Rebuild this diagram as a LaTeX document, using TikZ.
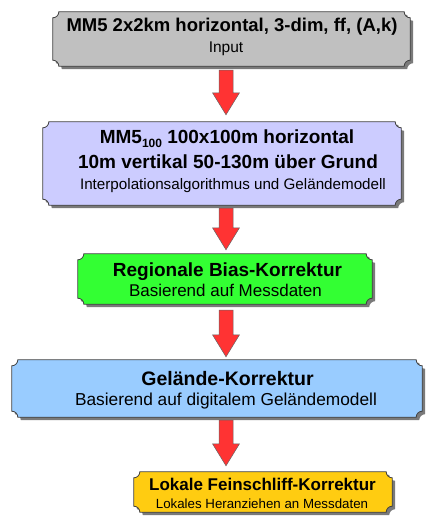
\documentclass[tikz,border=0pt]{standalone}
\usepackage{fontspec}
\setmainfont{Liberation Sans}
\usetikzlibrary{calc}
\pgfdeclarelayer{bg}
\pgfsetlayers{bg,main}
\definecolor{cgray}{HTML}{C0C0C0}
\definecolor{clav}{HTML}{CCCCFF}
\definecolor{cgreen}{HTML}{33FF33}
\definecolor{cblue}{HTML}{99CCFF}
\definecolor{cyell}{HTML}{FFCC11}
\definecolor{cshadow}{HTML}{7A7A7A}
\definecolor{cborder}{HTML}{404040}
\definecolor{cred}{HTML}{FF3333}
\tikzset{
  boxnode/.style={draw=none, inner sep=0pt},
  txt/.style={anchor=base, inner sep=0pt, text=black},
  plaquefill/.style={draw=cborder, line width=0.8pt},
  shadowfill/.style={fill=cshadow},
  arrowshape/.style={fill=cred, draw=cborder!80, line width=0.5pt, line join=miter},
}
\newcommand\bt[1]{\fontsize{#1}{#1}\selectfont\bfseries}
\newcommand\st[1]{\fontsize{#1}{#1}\selectfont\mdseries}
\newcommand\plaque[2]{%
  \begin{pgfonlayer}{bg}
  \path let \p1=(#1.south west), \p2=(#1.north east), \n1={6pt} in
    [shadowfill] (\x1+\n1+3pt,\y2-3pt) -- (\x2-\n1+3pt,\y2-3pt)
      arc[start angle=180,end angle=270,radius=\n1] -- (\x2+3pt,\y1+\n1-3pt)
      arc[start angle=90,end angle=180,radius=\n1] -- (\x1+\n1+3pt,\y1-3pt)
      arc[start angle=0,end angle=90,radius=\n1] -- (\x1+3pt,\y2-\n1-3pt)
      arc[start angle=270,end angle=360,radius=\n1] -- cycle;
  \path let \p1=(#1.south west), \p2=(#1.north east), \n1={6pt} in
    [plaquefill, fill=#2] (\x1+\n1,\y2) -- (\x2-\n1,\y2)
      arc[start angle=180,end angle=270,radius=\n1] -- (\x2,\y1+\n1)
      arc[start angle=90,end angle=180,radius=\n1] -- (\x1+\n1,\y1)
      arc[start angle=0,end angle=90,radius=\n1] -- (\x1,\y2-\n1)
      arc[start angle=270,end angle=360,radius=\n1] -- cycle;
  \end{pgfonlayer}}
\newcommand\bigarrow[4]{% from, to, top gap, bottom gap
  \path let \p1=(#1.south), \p2=(#2.north), \n1={226pt} in
    [arrowshape] (\n1-7pt,\y1-#3) -- (\n1+7pt,\y1-#3) -- (\n1+7pt,\y2+#4+22pt)
      -- (\n1+13.5pt,\y2+#4+22pt) -- (\n1,\y2+#4) -- (\n1-13.5pt,\y2+#4+22pt)
      -- (\n1-7pt,\y2+#4+22pt) -- cycle;}
\begin{document}
\begin{tikzpicture}[x=1pt,y=1pt]
\useasboundingbox (0,0) rectangle (432,-516);
% boxes
\node[boxnode, minimum width=357pt, minimum height=54pt] (n1) at (231.5,-39) {};
\node[boxnode, minimum width=358pt, minimum height=83pt] (n2) at (222,-163.5) {};
\node[boxnode, minimum width=294pt, minimum height=50pt] (n3) at (225,-279) {};
\node[boxnode, minimum width=410pt, minimum height=57pt] (n4) at (217,-388.5) {};
\node[boxnode, minimum width=258pt, minimum height=40pt] (n5) at (263,-492) {};
% texts
\node[txt] (t1a) at (232,-32) {\bt{18.5}MM5 2x2km horizontal, 3-dim, ff, (A,k)};
\node[txt] (t1b) at (226,-53) {\st{15.5}Input};
\node[txt] (t2a) at (227,-143) {\bt{19}MM5\raisebox{-4pt}{\fontsize{12}{12}\selectfont 100} 100x100m horizontal};
\node[txt] (t2b) at (228,-168) {\bt{19}10m vertikal 50-130m über Grund};
\node[txt] (t2c) at (233,-189) {\st{15.2}Interpolationsalgorithmus und Geländemodell};
\node[txt] (t3a) at (227.5,-276) {\bt{19}Regionale Bias-Korrektur};
\node[txt] (t3b) at (225.5,-296) {\st{17}Basierend auf Messdaten};
\node[txt] (t4a) at (227.5,-385) {\bt{19.5}Gelände-Korrektur};
\node[txt] (t4b) at (226,-405) {\st{17.3}Basierend auf digitalem Geländemodell};
\node[txt] (t5a) at (262.5,-490) {\bt{17}Lokale Feinschliff-Korrektur};
\node[txt] (t5b) at (262,-508) {\st{13.3}Lokales Heranziehen an Messdaten};
\plaque{n1}{cgray}
\plaque{n2}{clav}
\plaque{n3}{cgreen}
\plaque{n4}{cblue}
\plaque{n5}{cyell}
\bigarrow{n1}{n2}{4pt}{7pt}
\bigarrow{n2}{n3}{3pt}{4pt}
\bigarrow{n3}{n4}{6pt}{3pt}
\bigarrow{n4}{n5}{3pt}{6pt}
\end{tikzpicture}
\end{document}
